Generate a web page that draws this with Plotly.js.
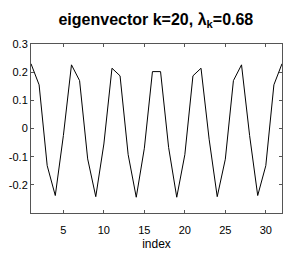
<!DOCTYPE html>
<html>
<head>
<meta charset="utf-8">
<script src="https://cdn.plot.ly/plotly-3.0.1.min.js"></script>
<style>html,body{margin:0;padding:0;background:#fff;}#chart{width:286px;height:254px;}</style>
</head>
<body>
<div id="chart"></div>
<script>
var indexValues = [];
for (var n = 1; n <= 32; n++) indexValues.push(n);
var eigenvector = [0.230, 0.155, -0.132, -0.238, -0.025, 0.226, 0.170, -0.108,
  -0.242, -0.055, 0.214, 0.187, -0.093, -0.244, -0.070, 0.202,
  0.202, -0.068, -0.244, -0.093, 0.187, 0.214, -0.038, -0.242,
  -0.109, 0.170, 0.226, -0.025, -0.238, -0.132, 0.155, 0.230];
var xTicks = [5, 10, 15, 20, 25, 30];
var yTicks = [-0.2, -0.1, 0, 0.1, 0.2, 0.3];
var yTickLabels = ['-0.2', '-0.1', '0', '0.1', '0.2', '0.3'];

var font = 'Liberation Sans, Arial, Helvetica, sans-serif';
var data = [{
  x: indexValues, y: eigenvector, type: 'scatter', mode: 'lines',
  line: {color: '#000', width: 1}, hoverinfo: 'none'
}, {
  x: indexValues, y: eigenvector, type: 'scatter', mode: 'lines', xaxis: 'x2',
  line: {color: 'rgba(0,0,0,0)', width: 0}, hoverinfo: 'none'
}];
var axisCommon = {
  showgrid: false, zeroline: false, showline: true, linecolor: '#555', linewidth: 1,
  mirror: 'ticks', ticks: 'inside', ticklen: 3, tickcolor: '#555', tickwidth: 1,
  tickfont: {family: font, size: 11, color: '#000'}
};
var layout = {
  width: 286, height: 254,
  margin: {l: 31, r: 4, t: 44, b: 41},
  paper_bgcolor: '#fff', plot_bgcolor: '#fff',
  showlegend: false,
  title: {text: '<b>eigenvector k=20, λ<sub>k</sub>=0.68</b>', font: {family: font, size: 16, color: '#000'},
    x: 0.545, xanchor: 'center', y: 0.925, yanchor: 'middle'},
  xaxis: {
    showgrid: false, zeroline: false, showline: true, linecolor: '#555', linewidth: 1, mirror: true,
    ticks: 'outside', ticklen: 7, tickcolor: 'rgba(0,0,0,0)',
    tickfont: {family: font, size: 11, color: '#000'},
    range: [1, 32], tickvals: xTicks, ticktext: xTicks.map(String),
    title: {text: 'index', font: {family: font, size: 12, color: '#000'}, standoff: 4}
  },
  xaxis2: Object.assign({}, axisCommon, {
    overlaying: 'x', anchor: 'y', side: 'bottom', matches: 'x',
    range: [1, 32], tickvals: xTicks, showticklabels: false
  }),
  yaxis: Object.assign({}, axisCommon, {
    range: [-0.3, 0.3], tickvals: yTicks, ticktext: yTickLabels
  })
};
Plotly.newPlot('chart', data, layout, {staticPlot: true, displayModeBar: false});
</script>
</body>
</html>
